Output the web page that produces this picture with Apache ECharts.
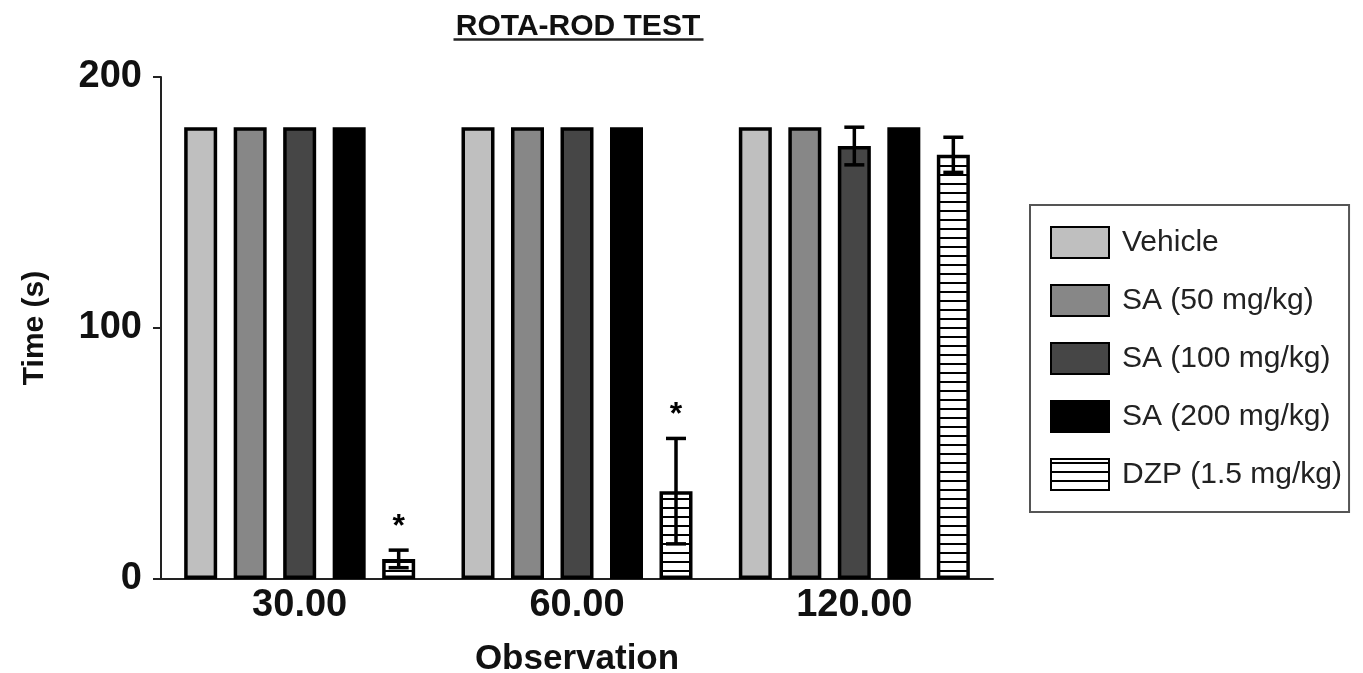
<!DOCTYPE html>
<html>
<head>
<meta charset="utf-8">
<script src="https://cdn.jsdelivr.net/npm/echarts@6/dist/echarts.min.js"></script>
<style>
html,body{margin:0;padding:0;background:#fff;}
#chart{width:1363px;height:673px;}
</style>
</head>
<body>
<div id="chart"></div>
<script>
// ---- data ----
const categories = ['30.00', '60.00', '120.00'];
const seriesNames = ['Vehicle', 'SA (50 mg/kg)', 'SA (100 mg/kg)', 'SA (200 mg/kg)', 'DZP (1.5 mg/kg)'];
const vehicle = [180, 180, 180];
const sa50 = [180, 180, 180];
const sa100 = [180, 180, 172.5];
const sa200 = [180, 180, 180];
const dzp = [8, 35, 169];
const sa100Err = [0, 0, 7.5];
const dzpErr = [3.5, 21, 7];
const dzpSignif = ['*', '*', ''];
const yTicks = [0, 100, 200];

// ---- styles ----
const FONT = '"Liberation Sans", Arial, sans-serif';
const BAR_W = 33;
const BAR_GAP = 0.5;           // fraction of bar width
const PITCH = BAR_W * (1 + BAR_GAP);

const pc = document.createElement('canvas');
pc.width = 8; pc.height = 9;
const pctx = pc.getContext('2d');
pctx.fillStyle = '#ffffff'; pctx.fillRect(0, 0, 8, 9);
pctx.fillStyle = '#000000'; pctx.fillRect(0, 3, 8, 2);

const fills = ['#bfbfbf', '#878787', '#464646', '#000000', {image: pc, repeat: 'repeat'}];
const values = [vehicle, sa50, sa100, sa200, dzp];

const barSeries = seriesNames.map((n, i) => ({
  name: n,
  type: 'bar',
  barWidth: BAR_W,
  barGap: (BAR_GAP * 100) + '%',
  itemStyle: {color: fills[i], borderColor: '#000', borderWidth: 3.5},
  emphasis: {disabled: true},
  data: values[i]
}));

function errSeries(name, barIdx, means, errs, signif) {
  return {
    name: name,
    type: 'custom',
    z: 5,
    silent: true,
    data: means.map((m, i) => [i, m, errs[i]]),
    renderItem: function (params, api) {
      const ci = api.value(0), m = api.value(1), e = api.value(2);
      const star = signif ? signif[params.dataIndex] : '';
      const base = api.coord([ci, m]);
      const x = base[0] + (barIdx - 2) * PITCH;
      const top = api.coord([ci, m + e])[1];
      const bot = api.coord([ci, m - e])[1];
      const children = [];
      const ls = {stroke: '#000', lineWidth: 3.5};
      const hw = 10;
      if (e > 0) {
        children.push({type: 'line', shape: {x1: x, y1: top, x2: x, y2: bot}, style: ls});
        children.push({type: 'line', shape: {x1: x - hw, y1: top, x2: x + hw, y2: top}, style: ls});
        children.push({type: 'line', shape: {x1: x - hw, y1: bot, x2: x + hw, y2: bot}, style: ls});
      }
      if (star) {
        children.push({type: 'text', style: {x: x, y: top - 23, text: star, fill: '#000',
          font: 'bold 32px ' + FONT, textAlign: 'center', textVerticalAlign: 'middle'}});
      }
      return {type: 'group', children: children};
    }
  };
}

const chart = echarts.init(document.getElementById('chart'));
chart.setOption({
  animation: false,
  backgroundColor: '#fff',
  title: {
    text: 'ROTA-ROD TEST',
    left: 573, top: 7, textAlign: 'center',
    textStyle: {fontFamily: FONT, fontWeight: 'bold', fontSize: 30, color: '#111'}
  },
  graphic: [{
    type: 'line', left: 451, top: 37,
    shape: {x1: 0, y1: 0, x2: 250, y2: 0},
    style: {stroke: '#222', lineWidth: 2.5}
  }],
  legend: {
    orient: 'vertical',
    left: 1030, top: 205,
    data: seriesNames,
    icon: 'rect',
    itemWidth: 58, itemHeight: 31,
    itemGap: 23,
    padding: [20, 7, 20, 20],
    borderColor: '#555', borderWidth: 2,
    selectedMode: false,
    textStyle: {fontFamily: FONT, fontSize: 30, color: '#222', lineHeight: 35, padding: [0, 0, 0, 8]}
  },
  grid: {left: 161, right: 370, top: 77, bottom: 94, containLabel: false, outerBoundsMode: 'none'},
  xAxis: {
    type: 'category',
    data: categories,
    name: 'Observation',
    nameLocation: 'middle',
    nameGap: 63,
    nameTextStyle: {fontFamily: FONT, fontWeight: 'bold', fontSize: 35, color: '#111'},
    axisLine: {lineStyle: {color: '#222', width: 2}},
    axisTick: {show: false},
    axisLabel: {fontFamily: FONT, fontWeight: 'bold', fontSize: 38, color: '#111', margin: 8}
  },
  yAxis: {
    type: 'value',
    min: yTicks[0], max: yTicks[yTicks.length - 1], interval: yTicks[1] - yTicks[0],
    name: 'Time (s)',
    nameLocation: 'middle',
    nameGap: 111,
    nameTextStyle: {fontFamily: FONT, fontWeight: 'bold', fontSize: 30, color: '#111'},
    axisLine: {show: true, lineStyle: {color: '#222', width: 2}},
    axisTick: {show: true, length: 8, lineStyle: {color: '#222', width: 2}},
    splitLine: {show: false},
    axisLabel: {fontFamily: FONT, fontWeight: 'bold', fontSize: 38, color: '#111', margin: 19}
  },
  series: barSeries.concat([
    errSeries('SA (100 mg/kg) error', 2, sa100, sa100Err, null),
    errSeries('DZP (1.5 mg/kg) error', 4, dzp, dzpErr, dzpSignif)
  ])
});
</script>
</body>
</html>
